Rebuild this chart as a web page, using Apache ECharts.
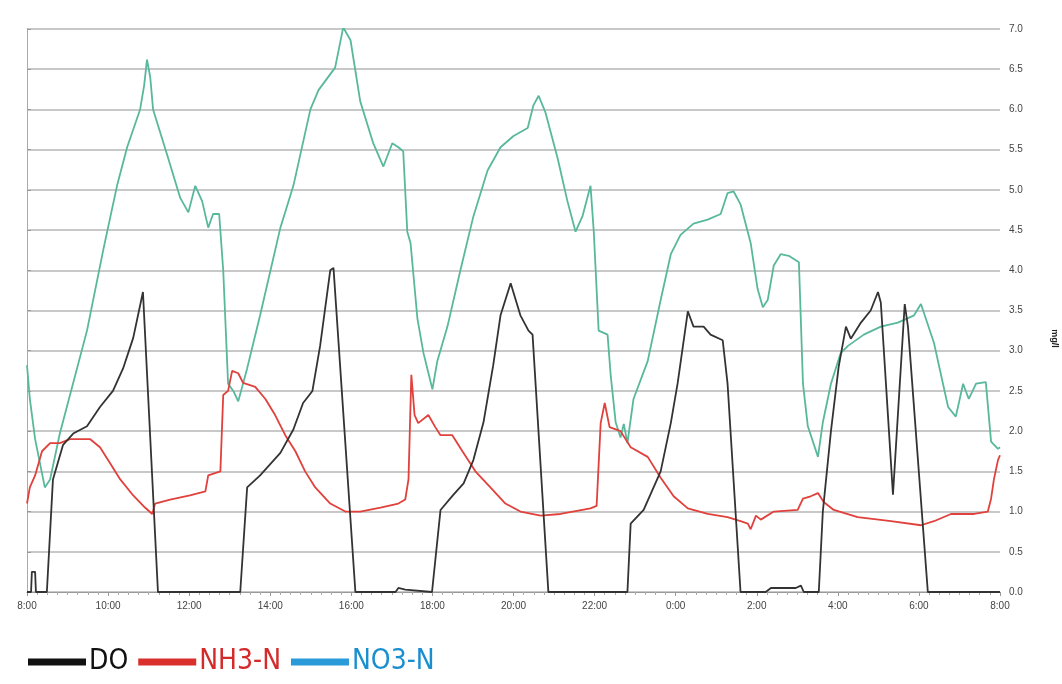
<!DOCTYPE html>
<html>
<head>
<meta charset="utf-8">
<script src="https://cdn.jsdelivr.net/npm/echarts@6/dist/echarts.min.js"></script>
<style>
    html, body { margin: 0; padding: 0; background: #fff; }
    #chart { width: 1062px; height: 684px; }
</style>
</head>
<body>
<div id="chart"></div>
<script>
// hours since 8:00, value in mg/l
var timeLabels = ['8:00', '10:00', '12:00', '14:00', '16:00', '18:00', '20:00', '22:00', '0:00', '2:00', '4:00', '6:00', '8:00'];
var seriesNames = ['DO', 'NH3-N', 'NO3-N'];

var doData = [
    [0, 0], [0.10, 0], [0.12, 0.25], [0.20, 0.25], [0.22, 0], [0.49, 0], [0.64, 1.4], [0.89, 1.83],
    [1.14, 1.97], [1.48, 2.06], [1.80, 2.3], [2.12, 2.5], [2.37, 2.78], [2.62, 3.16], [2.86, 3.73],
    [3.23, 0], [5.26, 0], [5.43, 1.3], [5.75, 1.45], [6.25, 1.73], [6.57, 2.02], [6.81, 2.35],
    [7.04, 2.5], [7.23, 3.06], [7.48, 4.0], [7.56, 4.03], [8.10, 0], [9.09, 0], [9.16, 0.05],
    [9.33, 0.03], [9.99, 0], [10.20, 1.02], [10.52, 1.21], [10.77, 1.35], [11.01, 1.64],
    [11.26, 2.11], [11.50, 2.82], [11.68, 3.44], [11.93, 3.84], [12.17, 3.44], [12.37, 3.25],
    [12.47, 3.2], [12.86, 0], [14.81, 0], [14.89, 0.85], [15.21, 1.02], [15.63, 1.5],
    [15.88, 2.1], [16.05, 2.6], [16.30, 3.49], [16.44, 3.3], [16.69, 3.3], [16.86, 3.2],
    [17.16, 3.13], [17.28, 2.59], [17.60, 0], [18.22, 0], [18.35, 0.05], [18.96, 0.05],
    [19.09, 0.08], [19.16, 0], [19.53, 0], [19.63, 1.0], [19.83, 2.0], [20.02, 2.8],
    [20.20, 3.3], [20.32, 3.15], [20.57, 3.35], [20.81, 3.5], [20.99, 3.73], [21.06, 3.6],
    [21.36, 1.21], [21.65, 3.58], [21.73, 3.3], [22.22, 0], [24, 0]
];

var nh3Data = [
    [0, 1.1], [0.07, 1.3], [0.20, 1.45], [0.37, 1.75], [0.57, 1.85], [0.81, 1.85], [1.06, 1.9],
    [1.56, 1.9], [1.80, 1.8], [2.05, 1.6], [2.30, 1.4], [2.62, 1.2], [2.91, 1.05], [3.09, 0.97],
    [3.16, 1.1], [3.53, 1.15], [4.02, 1.2], [4.40, 1.25], [4.47, 1.45], [4.77, 1.5], [4.84, 2.45],
    [4.96, 2.5], [5.06, 2.75], [5.21, 2.72], [5.33, 2.6], [5.63, 2.55], [5.88, 2.4], [6.12, 2.2],
    [6.37, 1.95], [6.62, 1.75], [6.86, 1.5], [7.11, 1.3], [7.48, 1.1], [7.85, 1.0], [8.22, 1.0],
    [8.72, 1.05], [9.16, 1.1], [9.33, 1.15], [9.41, 1.4], [9.48, 2.7], [9.56, 2.2], [9.65, 2.1],
    [9.90, 2.2], [10.07, 2.05], [10.20, 1.95], [10.49, 1.95], [10.74, 1.75], [11.06, 1.5],
    [11.43, 1.3], [11.80, 1.1], [12.17, 1.0], [12.67, 0.95], [13.16, 0.97], [13.90, 1.04],
    [14.05, 1.07], [14.15, 2.1], [14.25, 2.35], [14.37, 2.05], [14.64, 2.0], [14.89, 1.8],
    [15.31, 1.68], [15.63, 1.42], [15.95, 1.19], [16.30, 1.04], [16.79, 0.97], [17.28, 0.93],
    [17.60, 0.88], [17.78, 0.85], [17.85, 0.78], [17.98, 0.95], [18.10, 0.9], [18.42, 1.0],
    [19.01, 1.02], [19.14, 1.16], [19.33, 1.19], [19.51, 1.23], [19.65, 1.12], [19.90, 1.02],
    [20.49, 0.93], [21.31, 0.88], [22.05, 0.83], [22.37, 0.88], [22.79, 0.97], [23.36, 0.97],
    [23.70, 1.0], [23.78, 1.16], [23.85, 1.4], [23.95, 1.64], [24, 1.7]
];

var no3Data = [
    [0, 2.82], [0.07, 2.4], [0.20, 1.9], [0.44, 1.3], [0.57, 1.4], [0.81, 1.97], [1.48, 3.25],
    [1.88, 4.25], [2.22, 5.05], [2.47, 5.53], [2.79, 6.0], [2.89, 6.3], [2.96, 6.62], [3.04, 6.4],
    [3.11, 6.0], [3.46, 5.43], [3.78, 4.9], [3.98, 4.72], [4.15, 5.05], [4.32, 4.86], [4.47, 4.53],
    [4.59, 4.7], [4.74, 4.7], [4.84, 4.0], [4.96, 2.59], [5.09, 2.5], [5.21, 2.37], [5.43, 2.78],
    [5.75, 3.44], [6.25, 4.53], [6.57, 5.05], [6.99, 6.0], [7.19, 6.24], [7.60, 6.52], [7.80, 7.02],
    [7.98, 6.86], [8.22, 6.1], [8.54, 5.58], [8.79, 5.29], [9.01, 5.58], [9.16, 5.53], [9.28, 5.48],
    [9.38, 4.48], [9.46, 4.34], [9.63, 3.4], [9.78, 2.97], [10.0, 2.52], [10.12, 2.87],
    [10.37, 3.3], [10.69, 4.0], [11.01, 4.67], [11.36, 5.24], [11.68, 5.53], [12.0, 5.67],
    [12.35, 5.77], [12.49, 6.05], [12.62, 6.17], [12.79, 5.96], [13.09, 5.39], [13.33, 4.86],
    [13.53, 4.48], [13.70, 4.67], [13.90, 5.05], [13.98, 4.48], [14.10, 3.25], [14.32, 3.2],
    [14.40, 2.68], [14.52, 2.11], [14.64, 1.92], [14.72, 2.09], [14.81, 1.85], [14.96, 2.4],
    [15.31, 2.87], [15.63, 3.63], [15.88, 4.2], [16.12, 4.44], [16.44, 4.58], [16.79, 4.63],
    [17.11, 4.7], [17.28, 4.96], [17.43, 4.98], [17.60, 4.82], [17.85, 4.34], [18.02, 3.77],
    [18.15, 3.54], [18.27, 3.63], [18.42, 4.06], [18.59, 4.2], [18.79, 4.18], [19.04, 4.1],
    [19.14, 2.59], [19.26, 2.06], [19.51, 1.68], [19.63, 2.11], [19.83, 2.59], [20.07, 2.97],
    [20.25, 3.06], [20.64, 3.2], [21.06, 3.3], [21.48, 3.35], [21.88, 3.44], [22.05, 3.58],
    [22.37, 3.1], [22.72, 2.3], [22.91, 2.18], [23.09, 2.59], [23.23, 2.4], [23.41, 2.59],
    [23.65, 2.61], [23.78, 1.87], [23.95, 1.78], [24, 1.8]
];

var chart = echarts.init(document.getElementById('chart'));

var option = {
    backgroundColor: '#fff',
    animation: false,
    grid: {
        left: 27,
        right: 62,
        top: 29,
        bottom: 92,
        containLabel: false,
        outerBoundsMode: 'none'
    },
    legend: {
        left: 23,
        top: 643,
        icon: 'rect',
        itemWidth: 58,
        itemHeight: 7,
        itemGap: 10,
        textStyle: {
            fontFamily: "'DejaVu Sans Condensed', 'Liberation Sans', sans-serif",
            fontSize: 28,
            padding: [0, 0, 0, -2]
        },
        data: [
            { name: seriesNames[0], itemStyle: { color: '#111' }, textStyle: { color: '#111' } },
            { name: seriesNames[1], itemStyle: { color: '#d9302c' }, textStyle: { color: '#d42a2a' } },
            { name: seriesNames[2], itemStyle: { color: '#2b9ad8' }, textStyle: { color: '#1a8fd0' } }
        ]
    },
    xAxis: {
        type: 'value',
        min: 0,
        max: 24,
        interval: 2,
        axisLine: { lineStyle: { color: '#999', width: 1 } },
        axisTick: { show: true, length: 4, lineStyle: { color: '#999' } },
        minorTick: { show: true, splitNumber: 8, length: 3, lineStyle: { color: '#aaa' } },
        splitLine: { show: false },
        axisLabel: {
            color: '#444',
            fontSize: 10,
            margin: 9,
            formatter: function (v) {
                return timeLabels[Math.round(v / 2)];
            }
        }
    },
    yAxis: [{
        type: 'value',
        position: 'right',
        min: 0,
        max: 7,
        interval: 0.5,
        name: 'mg/l',
        nameLocation: 'middle',
        nameGap: 50,
        nameRotate: -90,
        nameTextStyle: { color: '#222', fontSize: 9, fontWeight: 'bold', padding: [0, 0, 0, 56] },
        axisLine: { show: true, lineStyle: { color: '#999' } },
        axisTick: { show: true, length: 4, lineStyle: { color: '#999' } },
        axisLabel: {
            color: '#444',
            fontSize: 10,
            margin: 9,
            formatter: function (v) { return v.toFixed(1); }
        },
        splitLine: { show: true, lineStyle: { color: '#c8c8c8', width: 2 } }
    }, {
        type: 'value',
        position: 'left',
        min: 0,
        max: 7,
        interval: 0.5,
        axisLine: { show: true, lineStyle: { color: '#aaa' } },
        axisTick: { show: false },
        axisLabel: { show: false },
        splitLine: { show: false }
    }],
    series: [
        {
            name: seriesNames[2],
            type: 'line',
            symbol: 'none',
            data: no3Data,
            lineStyle: { color: '#58b89c', width: 1.8 },
            itemStyle: { color: '#58b89c' }
        },
        {
            name: seriesNames[1],
            type: 'line',
            symbol: 'none',
            data: nh3Data,
            lineStyle: { color: '#e0413c', width: 1.8 },
            itemStyle: { color: '#e0413c' }
        },
        {
            name: seriesNames[0],
            type: 'line',
            symbol: 'none',
            data: doData,
            lineStyle: { color: '#333', width: 1.8 },
            itemStyle: { color: '#333' }
        }
    ]
};

chart.setOption(option);
</script>
</body>
</html>
